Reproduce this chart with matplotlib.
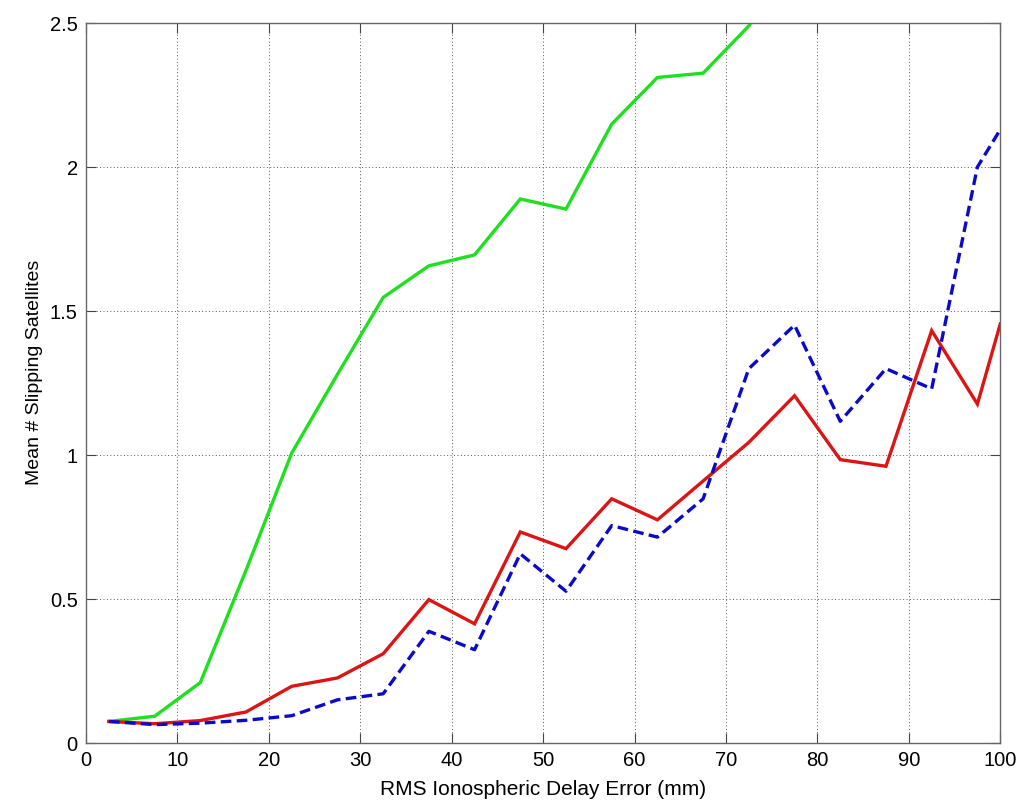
"""
Mean number of slipping satellites vs RMS ionospheric delay error.
MATLAB-style line chart re-drawn with plain matplotlib.
"""
import matplotlib
matplotlib.use("Agg")
import matplotlib.pyplot as plt
from matplotlib.ticker import FuncFormatter

plt.rcParams["font.family"] = ["Liberation Sans", "DejaVu Sans"]

# x positions (mm) of the samples
x_err = [2.5, 7.5, 12.5, 17.5, 22.5, 27.5, 32.5, 37.5, 42.5, 47.5,
         52.5, 57.5, 62.5, 67.5, 72.5, 77.5, 82.5, 87.5, 92.5, 97.5, 100]

green = [0.075, 0.093, 0.21, 0.60, 1.007, 1.28, 1.547, 1.657, 1.695, 1.889,
         1.854, 2.149, 2.311, 2.326, 2.49, 2.75]
red = [0.075, 0.067, 0.078, 0.108, 0.197, 0.226, 0.31, 0.498, 0.414, 0.733,
       0.675, 0.848, 0.775, 0.91, 1.044, 1.206, 0.984, 0.961, 1.432, 1.177, 1.455]
blue = [0.075, 0.064, 0.069, 0.079, 0.095, 0.15, 0.171, 0.388, 0.324, 0.657,
        0.527, 0.755, 0.715, 0.848, 1.30, 1.451, 1.117, 1.30, 1.23, 2.0, 2.13]

x_ticks = [0, 10, 20, 30, 40, 50, 60, 70, 80, 90, 100]
y_ticks = [0, 0.5, 1, 1.5, 2, 2.5]

fig = plt.figure(figsize=(10.33, 8.11), dpi=100)
ax = fig.add_axes([0.0833, 0.0838, 0.885, 0.8878])

ax.plot(x_err[:len(green)], green, color="#1ee01e", lw=2.4, solid_joinstyle="miter")
ax.plot(x_err, red, color="#dc1414", lw=2.4, solid_joinstyle="miter")
ax.plot(x_err, blue, color="#0a0ac8", lw=2.4, ls=(0, (3.2, 1.6)))

ax.set_xlim(0, 100); ax.set_ylim(0, 2.5)
ax.set_xticks(x_ticks); ax.set_yticks(y_ticks)
ax.yaxis.set_major_formatter(FuncFormatter(lambda v, p: f"{v:g}"))
ax.tick_params(direction="in", length=7, width=0.8, color="#444444",
               top=True, right=True, labelsize=14.5, pad=6)
ax.grid(True, ls=(0, (1, 2.5)), lw=0.7, color="#555555")
for s in ax.spines.values():
    s.set_color("#666666"); s.set_linewidth(1.0)

ax.set_xlabel("RMS Ionospheric Delay Error (mm)", fontsize=15, labelpad=7)
ax.set_ylabel("Mean # Slipping Satellites", fontsize=14, labelpad=5)
ax.yaxis.label.set_y(0.515)   # matlab puts it a touch above centre

fig.savefig("out.png", dpi=100)
